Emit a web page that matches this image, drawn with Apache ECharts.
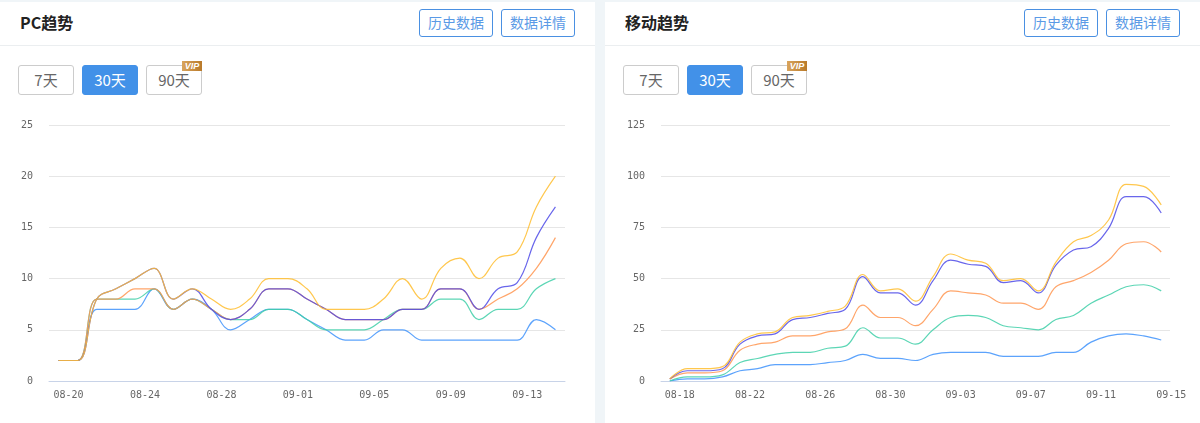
<!DOCTYPE html>
<html>
<head>
<meta charset="utf-8">
<script src="https://cdn.jsdelivr.net/npm/echarts@6/dist/echarts.min.js"></script>
<style>
html, body { margin: 0; padding: 0; }
body { width: 1200px; height: 423px; overflow: hidden; background: #f0f5f8; position: relative; font-family: "Noto Sans CJK SC", sans-serif; }
.panel { position: absolute; top: 2px; height: 421px; background: #fff; }
.left { left: 0; width: 595px; }
.right { left: 605px; width: 595px; }
.head { position: absolute; left: 0; right: 0; top: 0; height: 43px; border-bottom: 1px solid #ebeef0; }
.title { position: absolute; top: 8px; font-size: 16px; line-height: 24px; font-weight: 700; color: #222; }
.btn { position: absolute; top: 7px; width: 72px; height: 26px; line-height: 25px; text-align: center; font-size: 14px; color: #5a9ae6; border: 1px solid #4a90e2; border-radius: 3px; }
.tab { position: absolute; top: 63px; width: 54px; height: 28px; line-height: 27px; text-align: center; font-size: 15px; color: #666; border: 1px solid #ccc; border-radius: 3px; }
.tab.on { background: #4291e8; border-color: #4291e8; color: #fff; }
.vip { position: absolute; top: 59px; width: 20px; height: 10px; line-height: 10px; text-align: center; font: italic 700 9px "Liberation Sans", sans-serif; color: #fff; background: linear-gradient(90deg, #d9a45c, #b97a2a); }
.chart { position: absolute; left: 0; top: 0; width: 1200px; height: 423px; }
</style>
</head>
<body>
<div class="panel left">
  <div class="head"></div>
  <div class="title" style="left:20px">PC趋势</div>
  <div class="btn" style="left:419px">历史数据</div>
  <div class="btn" style="left:501px">数据详情</div>
  <div class="tab" style="left:18px">7天</div>
  <div class="tab on" style="left:82px">30天</div>
  <div class="tab" style="left:146px">90天</div>
  <div class="vip" style="left:182px">VIP</div>
</div>
<div class="panel right">
  <div class="head"></div>
  <div class="title" style="left:20px">移动趋势</div>
  <div class="btn" style="left:419px">历史数据</div>
  <div class="btn" style="left:501px">数据详情</div>
  <div class="tab" style="left:18px">7天</div>
  <div class="tab on" style="left:82px">30天</div>
  <div class="tab" style="left:146px">90天</div>
  <div class="vip" style="left:182px">VIP</div>
</div>
<div id="chart" class="chart"></div>
<script>
const pcDates = ['08-20','08-21','08-22','08-23','08-24','08-25','08-26','08-27','08-28','08-29','08-30','08-31','09-01','09-02','09-03','09-04','09-05','09-06','09-07','09-08','09-09','09-10','09-11','09-12','09-13','09-14','09-15']
const pcBlue = [2,2,7,7,7,9,7,8,7,5,6,7,7,6,5,4,4,5,5,4,4,4,4,4,4,6,5]
const pcGreen = [2,2,8,8,8,9,7,8,7,6,6,7,7,6,5,5,5,6,7,7,8,8,6,7,7,9,10]
const pcOrange = [2,2,8,8,9,9,7,8,7,6,7,9,9,8,7,6,6,6,7,7,9,9,7,8,9,11,14]
const pcPurple = [2,2,8,9,10,11,8,9,7,6,7,9,9,8,7,6,6,6,7,7,9,9,7,9,9.6,14,17]
const pcYellow = [2,2,8,9,10,11,8,9,8,7,8,10,10,9,7,7,7,8,10,8,11,12,10,12,12.6,17,20]

const mobileDates = ['08-18','08-19','08-20','08-21','08-22','08-23','08-24','08-25','08-26','08-27','08-28','08-29','08-30','08-31','09-01','09-02','09-03','09-04','09-05','09-06','09-07','09-08','09-09','09-10','09-11','09-12','09-13','09-14','09-15']
const mobileBlue = [0,1,1,2,5,6,8,8,8,9,10,13,11,11,10,13,14,14,14,12,12,12,14,14,19,22,23,22,20]
const mobileGreen = [0,2,2,3,9,11,13,14,14,16,17,26,21,21,18,25,31,32,31,27,26,25,30,32,38,42,46,47,44]
const mobileOrange = [1,4,4,5,15,18,19,22,22,24,25.5,37,31,31,27,35,44,43,42,38,38,35,46,49,53,59,67,68,63]
const mobilePurple = [1,5,5,6,18,22,23,30,31,33,35,51,43,43,37,49,59,57,56,48,49,43,56.6,64,65.6,74.5,90,90,82]
const mobileYellow = [1,6,6,7,19,23,24,31,32,34,36.6,52,44,45,39,51,62,59,57.5,49,50,44,58,68,71,78.6,96,95,86]

const pcTicks = [0, 5, 10, 15, 20, 25]
const mobileTicks = [0, 25, 50, 75, 100, 125]
const colors = ['#3f93fb', '#3fcfa8', '#ff9550', '#4f4be8', '#ffbd2e']

function axisPair(index, dates, ticks) {
  return {
    x: {
      type: 'category', gridIndex: index, data: dates, boundaryGap: true,
      axisLine: { lineStyle: { color: '#c8d3e8' } },
      axisTick: { alignWithLabel: true, interval: 3, length: 5, lineStyle: { color: '#c8d3e8' } },
      // the labels sit half a band right of their ticks in the original
      axisLabel: { interval: 3, color: '#666', fontSize: 10, margin: 9, padding: [0, 0, 0, 20], fontFamily: 'DejaVu Sans Mono' }
    },
    y: {
      type: 'value', gridIndex: index, min: 0, max: ticks[ticks.length - 1], interval: ticks[1],
      axisLine: { show: false }, axisTick: { show: false },
      axisLabel: { color: '#666', fontSize: 10, margin: 16, padding: [3, 0, 0, 0], fontFamily: 'DejaVu Sans Mono' },
      splitLine: { lineStyle: { color: '#e6e6e6' } }
    }
  }
}

function lineSeries(index, values, color) {
  return {
    type: 'line', xAxisIndex: index, yAxisIndex: index, data: values,
    smooth: 0.4, symbol: 'none', silent: true, animation: false,
    lineStyle: { color, width: 1.2, opacity: 0.85 }
  }
}

const pcAxes = axisPair(0, pcDates, pcTicks)
const mobileAxes = axisPair(1, mobileDates, mobileTicks)

const chart = echarts.init(document.getElementById('chart'), null, { renderer: 'canvas' })
chart.setOption({
  animation: false,
  grid: [
    { left: 49, width: 516, top: 125, height: 256 },
    { left: 661, width: 509, top: 125, height: 256 }
  ],
  xAxis: [pcAxes.x, mobileAxes.x],
  yAxis: [pcAxes.y, mobileAxes.y],
  series: [
    ...[pcBlue, pcGreen, pcOrange, pcPurple, pcYellow].map((v, i) => lineSeries(0, v, colors[i])),
    ...[mobileBlue, mobileGreen, mobileOrange, mobilePurple, mobileYellow].map((v, i) => lineSeries(1, v, colors[i]))
  ]
})
</script>
</body>
</html>
